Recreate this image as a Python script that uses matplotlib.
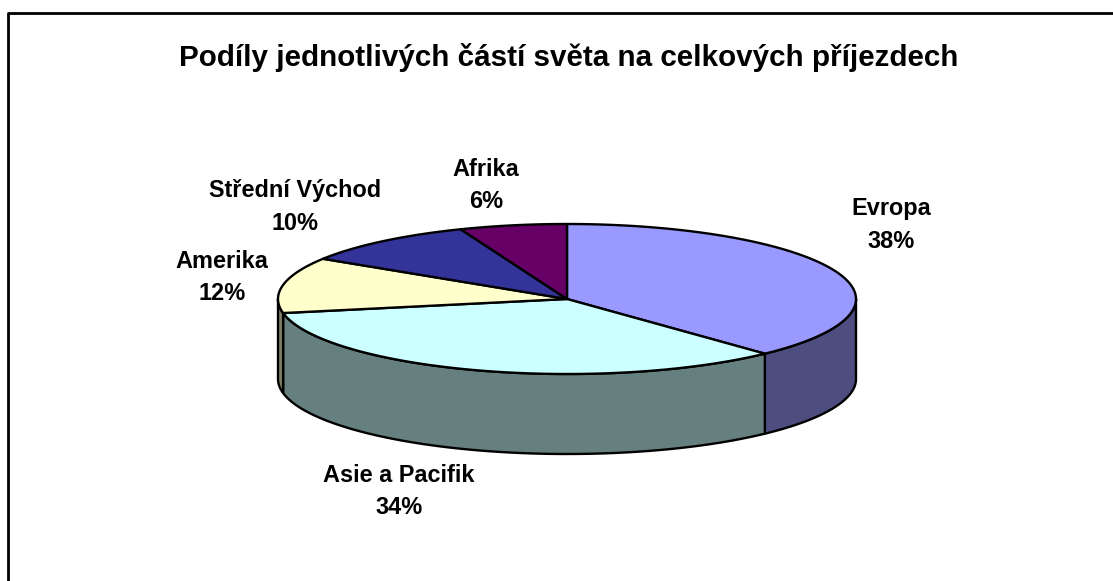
import numpy as np
import matplotlib
matplotlib.use('Agg')
import matplotlib.pyplot as plt

title = 'Podíly jednotlivých částí světa na celkových příjezdech'
regions = ['Evropa', 'Asie a Pacifik', 'Amerika', 'Střední Východ', 'Afrika']
shares = [38, 34, 12, 10, 6]
top_colors = ['#9999FF', '#CCFFFF', '#FFFFCC', '#333399', '#660066']
side_colors = ['#4D4D80', '#668080', '#808066', '#1A1A4D', '#330033']

plt.rcParams['font.family'] = ['Liberation Sans', 'DejaVu Sans']

# pie geometry, in image pixels
cx, cy = 567, 299
rx, ry = 289, 75
depth = 80


def arc(a0, a1, drop=0):
    t = np.radians(np.linspace(a0, a1, 200))
    return cx + rx * np.cos(t), cy + ry * np.sin(-t) + drop


fig = plt.figure(figsize=(11.13, 5.81), dpi=100)
ax = fig.add_axes([0, 0, 1, 1])
ax.set_xlim(0, 1113)
ax.set_ylim(581, 0)
ax.axis('off')

# chart frame, only the left and top edges are in the picture
ax.plot([8, 8, 1113], [581, 13, 13], color='black', lw=2, solid_capstyle='butt')

edges = 90 - np.cumsum([0] + shares) * 3.6

# walls first, only the part of each slice facing the viewer
for i in range(len(shares)):
    hi = min(edges[i], 0)
    lo = max(edges[i + 1], -180)
    if hi <= lo:
        continue
    x1, y1 = arc(hi, lo)
    x2, y2 = arc(lo, hi, depth)
    ax.fill(np.r_[x1, x2], np.r_[y1, y2], facecolor=side_colors[i],
            edgecolor='black', lw=1.7, joinstyle='round')

for i in range(len(shares)):
    x, y = arc(edges[i], edges[i + 1])
    ax.fill(np.r_[cx, x], np.r_[cy, y], facecolor=top_colors[i],
            edgecolor='black', lw=1.7, joinstyle='round')

ax.text(569, 57, title, ha='center', va='center', fontsize=21.3, fontweight='bold')

label_pos = [(891, 225), (399, 492), (222, 278), (295, 207), (486, 185)]
for name, val, (lx, ly) in zip(regions, shares, label_pos):
    ax.text(lx, ly, '%s\n%d%%' % (name, val), ha='center', va='center',
            fontsize=16.9, fontweight='bold', linespacing=1.5)

fig.savefig('out.png', dpi=100)
